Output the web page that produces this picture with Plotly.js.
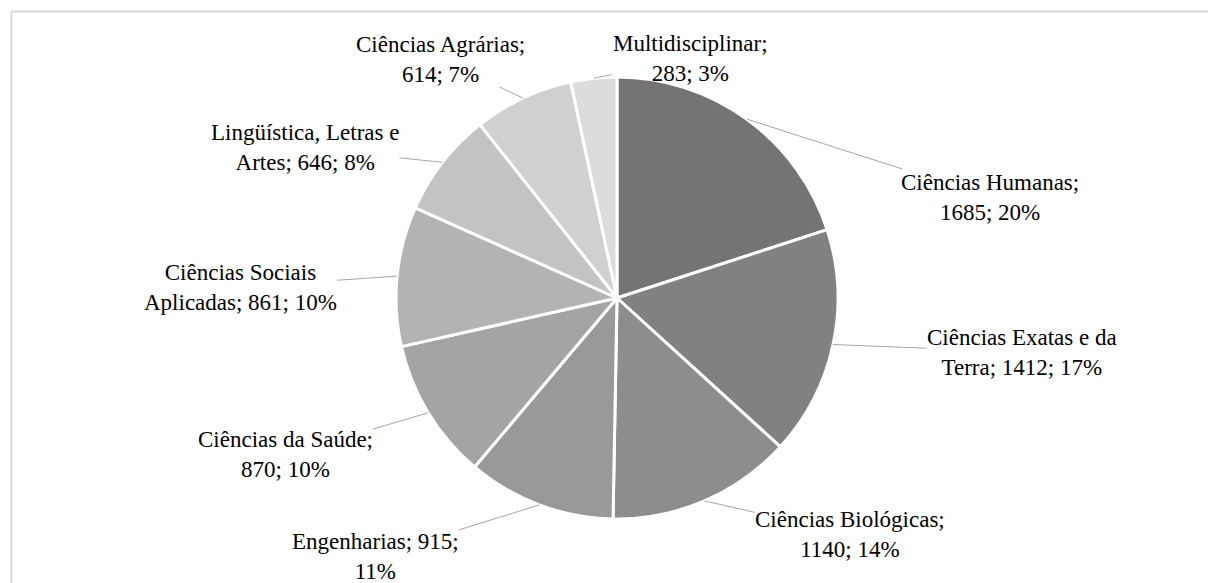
<!DOCTYPE html>
<html>
<head>
<meta charset="utf-8">
<script src="https://cdn.plot.ly/plotly-3.0.1.min.js"></script>
<style>html,body{margin:0;padding:0;background:#fff;}#chart{width:1208px;height:583px;}</style>
</head>
<body>
<div id="chart"></div>
<script>
const categories = ["Ciências Humanas", "Ciências Exatas e da Terra", "Ciências Biológicas", "Engenharias", "Ciências da Saúde", "Ciências Sociais Aplicadas", "Lingüística, Letras e Artes", "Ciências Agrárias", "Multidisciplinar"];
const values = [1685, 1412, 1140, 915, 870, 861, 646, 614, 283];
const labelLine1 = ["Ciências Humanas;", "Ciências Exatas e da", "Ciências Biológicas;", "Engenharias; 915;", "Ciências da Saúde;", "Ciências Sociais", "Lingüística, Letras e", "Ciências Agrárias;", "Multidisciplinar;"];
const labelLine2 = ["1685; 20%", "Terra; 1412; 17%", "1140; 14%", "11%", "870; 10%", "Aplicadas; 861; 10%", "Artes; 646; 8%", "614; 7%", "283; 3%"];
const colors = ["#747474", "#818181", "#8d8d8d", "#999999", "#a4a4a4", "#b3b3b3", "#c3c3c3", "#d0d0d0", "#dcdcdc"];

// layout: label centres in pixels
const labelPos = [[990, 197], [1022, 352], [850, 534], [375, 556], [285, 455], [240, 287], [305, 148], [440, 59], [690, 59]];

const W = 1208, H = 583;
const cx = 617, cy = 298, R = 221;

const total = values.reduce((a, b) => a + b, 0);
let cum = 0;
const annotations = values.map((v, i) => {
  const mid = (cum + v / 2) / total * 2 * Math.PI;
  cum += v;
  const px = cx + R * Math.sin(mid), py = cy - R * Math.cos(mid);
  return {
    xref: "paper", yref: "paper",
    x: px / W, y: 1 - py / H,
    ax: labelPos[i][0] - px, ay: labelPos[i][1] - py,
    text: labelLine1[i] + "<br>" + labelLine2[i],
    align: "center",
    showarrow: true, arrowhead: 0, arrowwidth: 1, arrowcolor: "#a6a6a6", standoff: 0,
    borderpad: 0,
    font: {family: "Liberation Serif, Times New Roman, serif", size: 23, color: "#000"}
  };
});

Plotly.newPlot("chart", [{
  type: "pie",
  labels: categories,
  values: values,
  textinfo: "none",
  sort: false,
  direction: "clockwise",
  rotation: 0,
  marker: {colors: colors, line: {color: "#ffffff", width: 3}},
  domain: {x: [(cx - R) / W, (cx + R) / W], y: [(H - cy - R) / H, (H - cy + R) / H]},
  hoverinfo: "label+value+percent",
  showlegend: false
}], {
  width: W, height: H,
  margin: {l: 0, r: 0, t: 0, b: 0},
  paper_bgcolor: "#fff",
  showlegend: false,
  annotations: annotations,
  shapes: [{type: "rect", xref: "paper", yref: "paper", x0: 11.5 / W, x1: 1.05, y0: -0.05, y1: (H - 11.5) / H, line: {color: "#d9d9d9", width: 2}, fillcolor: "rgba(0,0,0,0)"}]
}, {displayModeBar: false, staticPlot: true});
</script>
</body>
</html>
